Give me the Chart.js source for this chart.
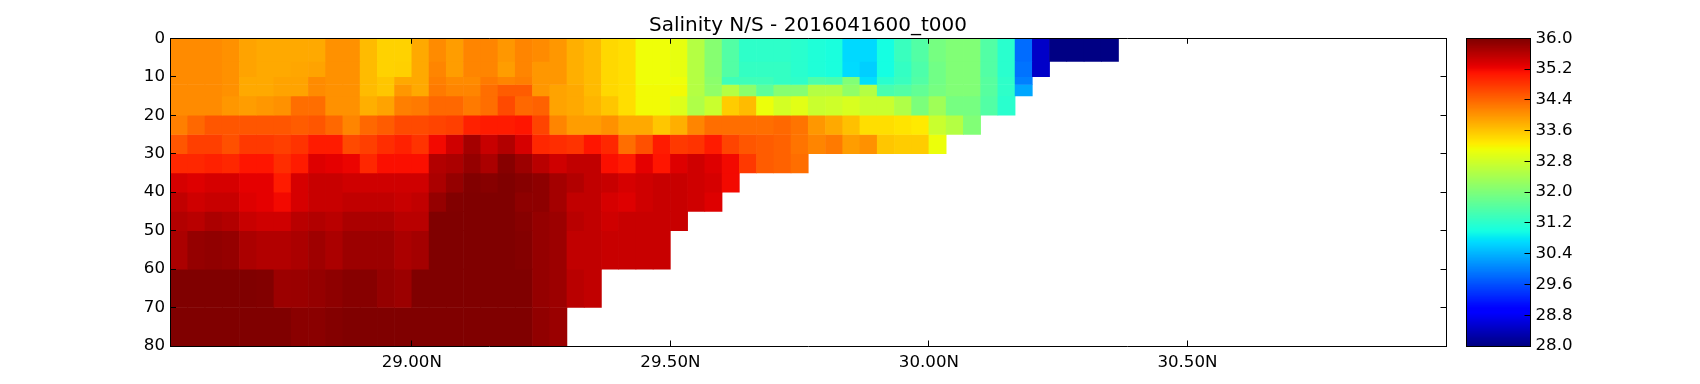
<!DOCTYPE html>
<html>
<head>
<meta charset="utf-8">
<script src="https://cdn.jsdelivr.net/npm/chart.js"></script>
<style>
  html, body { margin: 0; padding: 0; background: #fff; overflow: hidden; }
  canvas { position: absolute; top: 0; }
</style>
</head>
<body>
<canvas id="section" width="1616" height="384" style="left:0"></canvas>
<canvas id="colorbar" width="260" height="384" style="left:1440px"></canvas>
<script>
const chartTitle = 'Salinity N/S - 2016041600_t000';
const latTicks = [29.0, 29.5, 30.0, 30.5];
const depthTicks = [0, 10, 20, 30, 40, 50, 60, 70, 80];
const salinityTicks = [28.0, 28.8, 29.6, 30.4, 31.2, 32.0, 32.8, 33.6, 34.4, 35.2, 36.0];

// cell centres, degrees north
const lats = [
  28.55, 28.5833, 28.6167, 28.65, 28.6833, 28.7167, 28.75, 28.7833, 28.8167, 28.85, 28.8833,
  28.9167, 28.95, 28.9833, 29.0167, 29.05, 29.0833, 29.1167, 29.15, 29.1833, 29.2167, 29.25,
  29.2833, 29.3167, 29.35, 29.3833, 29.4167, 29.45, 29.4833, 29.5167, 29.55, 29.5833, 29.6167,
  29.65, 29.6833, 29.7167, 29.75, 29.7833, 29.8167, 29.85, 29.8833, 29.9167, 29.95, 29.9833,
  30.0167, 30.05, 30.0833, 30.1167, 30.15, 30.1833, 30.2167, 30.25, 30.2833, 30.3167, 30.35
];
// layer edges, metres
const depthEdges = [0, 6, 10, 12, 15, 20, 25, 30, 35, 40, 45, 50, 60, 70, 80];

// salinity per layer, shallow to deep. rows stop where the sea floor starts
const layer0 = [34.1,34.1,34.1,34.05,33.9,33.85,33.85,33.85,33.85,34.05,34.05,33.7,33.5,33.5,33.85,34.1,33.95,34.15,34.15,34.0,34.15,34.1,34.0,33.8,33.7,33.45,33.4,33.12,33.12,33.05,32.55,32.1,31.6,31.25,31.25,31.25,31.2,31.1,31.05,30.7,30.7,31.0,31.35,31.6,31.95,32.05,32.05,31.6,31.2,29.85,28.5,28.03,28.03,28.03,28.03];
const layer1 = [34.1,34.1,34.1,34.05,33.9,33.85,33.85,33.87,33.9,34.05,34.05,33.7,33.5,33.52,33.85,34.15,33.95,34.15,34.15,33.95,34.15,34.0,34.0,33.8,33.7,33.45,33.4,33.12,33.12,33.05,32.55,32.1,31.6,31.3,31.3,31.3,31.2,31.1,31.05,30.72,30.62,31.0,31.3,31.55,31.9,32.05,32.05,31.6,31.2,29.9,28.5];
const layer2 = [34.1,34.1,34.1,34.05,33.85,33.85,33.9,33.9,34.1,34.05,34.05,33.7,33.6,33.85,33.85,34.2,34.1,34.1,34.25,34.15,34.2,34.0,34.0,33.8,33.7,33.45,33.4,33.12,33.12,33.12,32.55,32.15,31.4,31.4,31.4,31.3,31.25,31.55,31.5,32.05,30.75,31.2,31.35,31.6,31.9,32.05,32.05,31.65,31.25,30.0];
const layer3 = [34.1,34.1,34.1,34.05,33.85,33.85,33.9,33.9,34.1,34.05,34.05,33.7,33.6,34.0,33.85,34.25,34.15,34.15,34.35,34.5,34.5,34.0,33.9,33.85,33.7,33.45,33.4,33.15,33.15,33.15,32.55,32.2,32.55,32.15,31.7,32.1,32.1,32.55,32.55,32.2,32.55,31.5,31.6,31.75,31.95,32.05,32.05,31.65,31.25,30.3];
const layer4 = [34.1,34.1,34.1,34.0,33.95,34.0,34.05,34.35,34.35,34.05,34.05,33.8,33.9,34.2,34.25,34.4,34.4,34.25,34.35,34.65,34.4,34.45,33.9,33.85,33.75,33.6,33.4,33.15,33.15,32.95,32.5,32.75,33.55,33.7,33.1,32.85,33.0,32.75,32.8,32.9,32.75,32.75,32.5,32.0,32.35,31.95,31.95,31.6,31.2];
const layer5 = [34.2,34.4,34.55,34.55,34.55,34.55,34.55,34.5,34.55,34.4,34.15,34.4,34.5,34.65,34.65,34.7,34.75,35.0,35.05,35.05,35.1,34.7,34.15,33.95,33.95,34.05,33.85,33.85,33.6,33.8,34.15,34.35,34.35,34.35,34.35,34.4,34.3,34.0,33.85,33.65,33.4,33.4,33.35,33.3,32.75,32.55,32.05];
const layer6 = [34.55,34.75,34.75,34.6,34.8,34.8,34.75,34.85,35.05,35.05,34.65,34.75,34.9,35.0,34.85,35.2,35.45,35.75,35.5,35.65,35.4,34.95,34.9,34.85,35.1,34.95,34.35,34.6,35.05,34.8,34.85,35.05,34.7,34.55,34.5,34.45,34.3,34.15,34.25,33.95,34.05,33.6,33.55,33.55,33.1];
const layer7 = [34.95,34.95,35.0,34.95,35.1,35.1,34.9,35.05,35.35,35.3,35.25,34.95,35.15,35.15,35.15,35.65,35.7,35.85,35.7,35.95,35.8,35.6,35.45,35.55,35.55,35.15,35.05,35.3,35.1,35.35,35.45,35.35,35.2,34.8,34.5,34.45,34.35];
const layer8 = [35.4,35.35,35.4,35.4,35.3,35.3,35.05,35.4,35.5,35.5,35.45,35.45,35.45,35.45,35.45,35.7,35.85,35.98,35.95,36.0,35.95,35.9,35.75,35.65,35.55,35.5,35.4,35.45,35.5,35.5,35.45,35.4,35.2];
const layer9 = [35.55,35.45,35.5,35.5,35.35,35.3,35.2,35.4,35.5,35.5,35.55,35.55,35.55,35.5,35.55,35.85,35.98,36.0,36.0,36.0,35.9,35.9,35.75,35.55,35.55,35.4,35.35,35.45,35.5,35.5,35.45,35.35];
const layer10 = [35.65,35.6,35.7,35.65,35.5,35.45,35.45,35.6,35.65,35.6,35.7,35.7,35.7,35.6,35.6,36.0,36.0,36.0,36.0,36.0,35.95,35.85,35.8,35.6,35.55,35.45,35.5,35.5,35.5,35.5];
const layer11 = [35.7,35.85,35.88,35.85,35.7,35.65,35.65,35.7,35.78,35.7,35.8,35.8,35.8,35.7,35.75,36.0,36.0,36.0,36.0,36.0,35.97,35.85,35.8,35.55,35.55,35.5,35.5,35.5,35.5];
const layer12 = [36.0,36.0,36.0,36.0,36.0,35.98,35.8,35.82,35.85,35.9,35.95,35.95,35.85,35.8,36.0,36.0,36.0,36.0,36.0,36.0,36.0,35.85,35.8,35.6,35.55];
const layer13 = [36.0,36.0,36.0,36.0,36.0,36.0,36.0,35.93,35.93,35.97,36.0,36.0,36.0,36.0,36.0,36.0,36.0,36.0,36.0,36.0,36.0,35.88,35.82];
const layers = [layer0, layer1, layer2, layer3, layer4, layer5, layer6, layer7, layer8, layer9, layer10, layer11, layer12, layer13];

const salinityMin = 28, salinityMax = 36;
const jetRed = [[0, 0], [0.35, 0], [0.66, 1], [0.89, 1], [1, 0.5]];
const jetGreen = [[0, 0], [0.125, 0], [0.375, 1], [0.64, 1], [0.91, 0], [1, 0]];
const jetBlue = [[0, 0.5], [0.11, 1], [0.34, 1], [0.65, 0], [1, 0]];

function segment(stops, t) {
  for (let i = 1; i < stops.length; i++) {
    if (t <= stops[i][0]) {
      const [x0, y0] = stops[i - 1], [x1, y1] = stops[i];
      return y0 + (y1 - y0) * (t - x0) / (x1 - x0);
    }
  }
  return stops[stops.length - 1][1];
}

function jet(v) {
  const t = Math.min(1, Math.max(0, (v - salinityMin) / (salinityMax - salinityMin)));
  const c = [jetRed, jetGreen, jetBlue].map(s => Math.round(segment(s, t) * 255));
  return `rgb(${c[0]},${c[1]},${c[2]})`;
}

const FONT = { family: '"DejaVu Sans"', size: 16.67 };

// matplotlib style frame side: black spine, ticks pointing into the plot
function frameAxis(position, min, max, tickValues, fitSize, showLabels, format) {
  const horizontal = position === 'top' || position === 'bottom';
  return {
    type: 'linear',
    axis: horizontal ? 'x' : 'y',
    position,
    min,
    max,
    reverse: false,
    offset: false,
    afterBuildTicks: scale => { scale.ticks = tickValues.map(value => ({ value })); },
    afterFit: scale => { if (horizontal) scale.height = fitSize; else scale.width = fitSize; },
    border: { display: true, color: '#000', width: 1, z: 2 },
    grid: { offset: false, drawOnChartArea: false, drawTicks: true, tickLength: -5.5, tickColor: '#000', tickWidth: 1, z: 2 },
    ticks: {
      display: showLabels,
      color: '#000',
      font: FONT,
      padding: horizontal ? 12 : 11,
      maxRotation: 0,
      autoSkip: false,
      callback: format
    }
  };
}

const sectionDatasets = layers.map((values, r) => ({
  data: values.map((v, c) => ({ x: lats[c], y: [depthEdges[r], depthEdges[r + 1]] })),
  backgroundColor: values.map(jet),
  grouped: false,
  barPercentage: 1,
  categoryPercentage: 1,
  borderWidth: 0
}));

const latMin = 28.5333, latMax = 31.0;
const yLeft = frameAxis('left', 0, 80, depthTicks, 170.5, true, v => String(v));
yLeft.reverse = true;
const yRight = frameAxis('right', 0, 80, depthTicks, 170, false);
yRight.reverse = true;

new Chart(document.getElementById('section'), {
  type: 'bar',
  data: { datasets: sectionDatasets },
  options: {
    responsive: false,
    animation: false,
    plugins: {
      legend: { display: false },
      tooltip: { enabled: false },
      title: {
        display: true,
        text: chartTitle,
        color: '#000',
        font: { family: FONT.family, size: 20, weight: 'normal', lineHeight: 1.2 },
        padding: { top: 13.5, bottom: 0.8 }
      }
    },
    scales: {
      x: frameAxis('bottom', latMin, latMax, latTicks, 38, true, v => v.toFixed(2) + 'N'),
      y: yLeft,
      x2: frameAxis('top', latMin, latMax, latTicks, 0, false),
      y2: yRight
    }
  }
});

// colour bar, 256 levels like the colormap
const barLevels = [];
for (let i = 0; i < 256; i++) barLevels.push(salinityMin + (i + 0.5) * (salinityMax - salinityMin) / 256);

new Chart(document.getElementById('colorbar'), {
  type: 'bar',
  data: {
    datasets: [{
      data: barLevels.map(v => ({ y: v, x: [0, 1] })),
      backgroundColor: barLevels.map(jet),
      barPercentage: 1,
      categoryPercentage: 1,
      borderWidth: 0,
      inflateAmount: 0.6
    }]
  },
  options: {
    indexAxis: 'y',
    responsive: false,
    animation: false,
    layout: { padding: { top: 38.3, bottom: 38, left: 26.7 } },
    plugins: { legend: { display: false }, tooltip: { enabled: false } },
    scales: {
      x: frameAxis('bottom', 0, 1, [], 0, false),
      y: frameAxis('right', salinityMin, salinityMax, salinityTicks, 170, true, v => v.toFixed(1)),
      x2: frameAxis('top', 0, 1, [], 0, false),
      y2: frameAxis('left', salinityMin, salinityMax, [], 0, false)
    }
  }
});
</script>
</body>
</html>
